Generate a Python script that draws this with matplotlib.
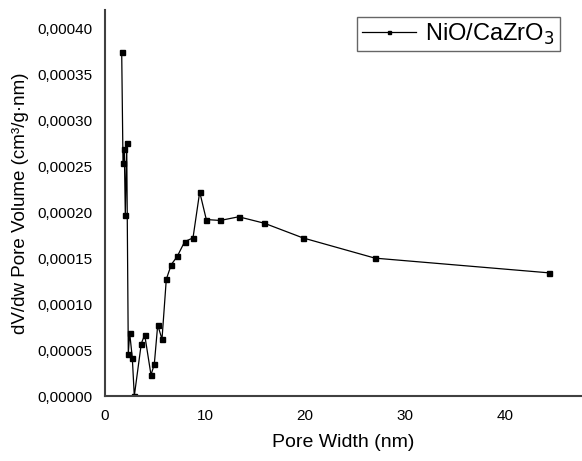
import matplotlib
matplotlib.use("Agg")

import matplotlib.pyplot as plt
from matplotlib.ticker import FuncFormatter

# Pore width (nm) and dV/dw pore volume (cm3/g.nm)
pore_width = [1.67, 1.80, 1.93, 2.03, 2.17, 2.33, 2.47, 2.73, 2.93, 3.63,
              3.97, 4.60, 4.93, 5.27, 5.70, 6.13, 6.63, 7.23, 7.97, 8.80,
              9.47, 10.13, 11.53, 13.37, 15.93, 19.80, 27.00, 44.40]
pore_volume = [0.000374, 0.000254, 0.000269, 0.000197, 0.000275, 0.0000462,
               0.0000684, 0.0000415, 0.0, 0.0000571, 0.0000666, 0.0000229,
               0.0000346, 0.0000772, 0.0000619, 0.000127, 0.000143, 0.000152,
               0.000168, 0.000172, 0.000222, 0.000192, 0.000191, 0.000195,
               0.000188, 0.000172, 0.000150, 0.000134]

plt.rcParams['font.family'] = ['Liberation Sans', 'DejaVu Sans']

fig = plt.figure(figsize=(5.82, 4.61), dpi=100)
ax = fig.add_axes([105 / 582, 65 / 461, 477 / 582, 386 / 461])

ax.plot(pore_width, pore_volume, color='black', lw=0.9, marker='s',
        markersize=3.6, label='NiO/CaZrO$_3$')

ax.set_xlim(0, 47.7)
ax.set_ylim(0, 0.00042)
ax.set_xticks([0, 10, 20, 30, 40])
ax.set_yticks([i * 0.00005 for i in range(9)])
ax.yaxis.set_major_formatter(FuncFormatter(lambda v, p: f"{v:.5f}".replace('.', ',')))

ax.spines['top'].set_visible(False)
ax.spines['right'].set_visible(False)
for s in ('left', 'bottom'):
    ax.spines[s].set_color('#404040')
    ax.spines[s].set_linewidth(1.5)
ax.tick_params(length=0, labelsize=11, pad=9)

ax.set_xlabel('Pore Width (nm)', fontsize=14, labelpad=8)
ax.set_ylabel('dV/dw Pore Volume (cm³/g·nm)', fontsize=13.5, labelpad=6)

leg = ax.legend(loc='upper right', bbox_to_anchor=(0.963, 0.995), fontsize=17,
                frameon=True, fancybox=False, edgecolor='#404040',
                handlelength=2.3, handletextpad=0.4, markerscale=0.6,
                borderpad=0.2, borderaxespad=0.2)
leg.get_frame().set_linewidth(1.0)

fig.savefig('out.png', dpi=100)
